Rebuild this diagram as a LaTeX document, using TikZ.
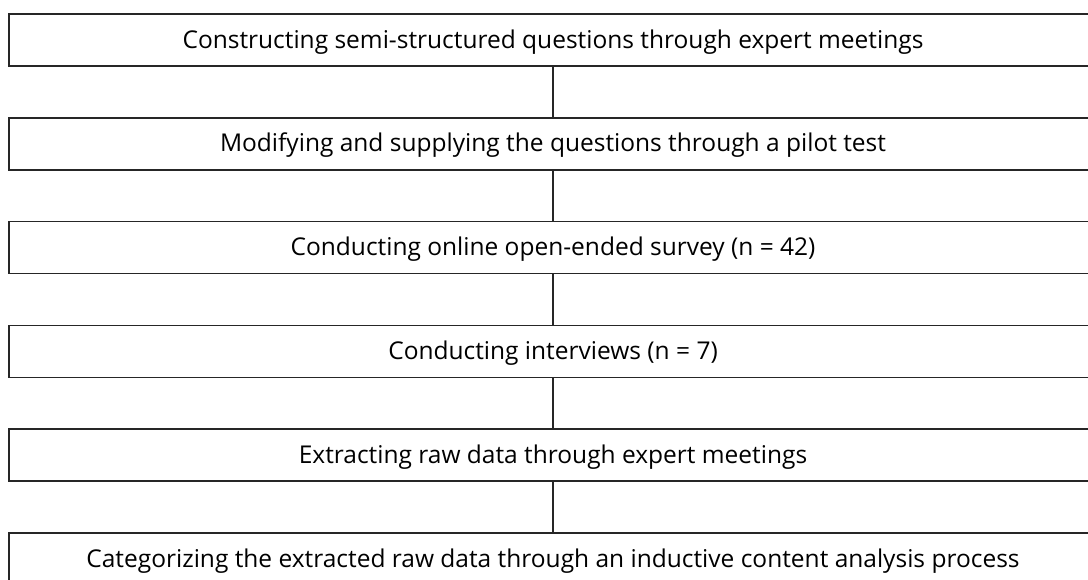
\documentclass[tikz,border=0pt]{standalone}
\usepackage{fontspec}
\setmainfont{Open Sans}
\begin{document}
\begin{tikzpicture}[x=1pt, y=1pt, node distance=103.8pt]
    \tikzset{
    block/.style={
        rectangle,
        draw=black!85,
        line width=1.6pt,
        minimum width=1088pt,
        minimum height=52pt,
        inner sep=0pt,
        text height=18pt,
        text depth=2pt,
        align=center,
        font=\fontsize{24.5}{28}\selectfont
    },
    link/.style={
        line width=1.6pt, draw=black!85
    }
}
    \clip (0,0) rectangle (1088,-579);
    \node[block] (construct) at (553,-40) {Constructing semi-structured questions through expert meetings};
    \node[block, below of = construct] (modify) {Modifying and supplying the questions through a pilot test};
    \node[block, below of = modify] (survey) {Conducting online open-ended survey (n = 42)};
    \node[block, below of = survey] (interview) {Conducting interviews (n = 7)};
    \node[block, below of = interview] (extract) {Extracting raw data through expert meetings};
    \node[block, below of = extract] (categorize) {Categorizing the extracted raw data through an inductive content analysis process};

    % connectors
    \draw[link] (construct) -- (modify);
    \draw[link] (modify) -- (survey);
    \draw[link] (survey) -- (interview);
    \draw[link] (interview) -- (extract);
    \draw[link] (extract) -- (categorize);
\end{tikzpicture}
\end{document}
